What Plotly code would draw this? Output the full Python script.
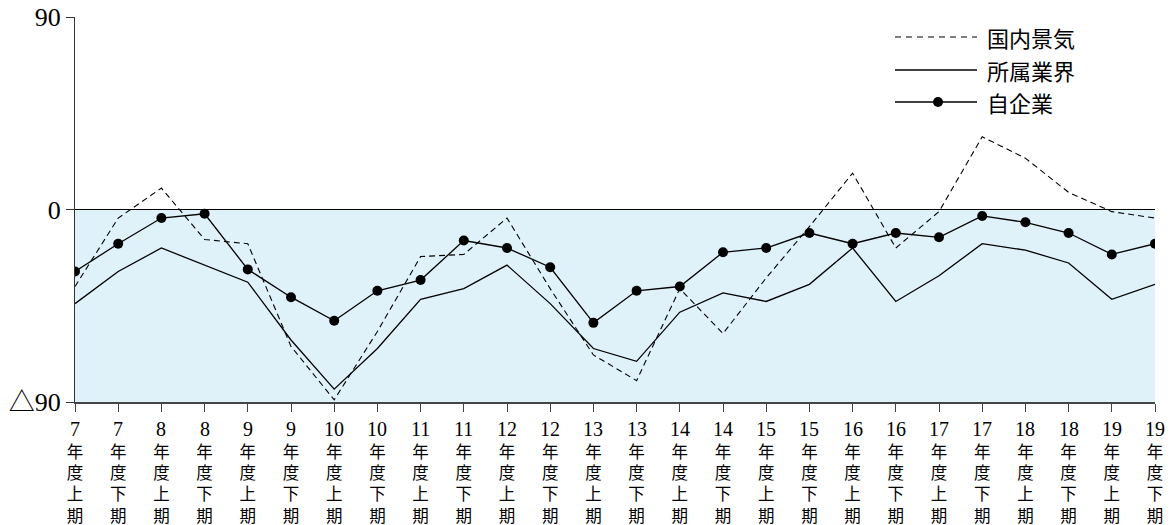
import plotly.graph_objects as go

# Fiscal half-year periods
years = [7, 7, 8, 8, 9, 9, 10, 10, 11, 11, 12, 12, 13, 13,
         14, 14, 15, 15, 16, 16, 17, 17, 18, 18, 19, 19]
halves = ["上", "下"] * 13

# Diffusion-index style scores
domestic = [-36, -4, 10, -14, -16, -64, -89, -57, -22, -21, -4, -37, -68,
            -80, -37, -58, -32, -8, 17, -18, -1, 34, 24, 8, -1, -4]
industry = [-44, -29, -18, -26, -34, -61, -84, -65, -42, -37, -26, -44, -65,
            -71, -48, -39, -43, -35, -18, -43, -31, -16, -19, -25, -42, -35]
company = [-29, -16, -4, -2, -28, -41, -52, -38, -33, -14.5, -18, -27, -53,
           -38, -36, -20, -18, -11, -16, -11, -13, -3, -6, -11, -21, -16]

y_ticks = [90, 0, -90]
y_ticktext = ["90", "0", "△90"]

legend_names = ["国内景気", "所属業界", "自企業"]

xs = list(range(len(years)))
# stacked period labels; the year number sits above them
ticktext = [f"年<br>度<br>{h}<br>期" for h in halves]

SERIF = "Liberation Serif, Noto Sans CJK JP, serif"

fig = go.Figure()

fig.add_trace(go.Scatter(
    x=xs, y=domestic, mode="lines", name=legend_names[0],
    line=dict(color="black", width=1.1, dash="6px,4px"),
))
fig.add_trace(go.Scatter(
    x=xs, y=industry, mode="lines", name=legend_names[1],
    line=dict(color="black", width=1.3),
))
fig.add_trace(go.Scatter(
    x=xs, y=company, mode="lines+markers", name=legend_names[2],
    line=dict(color="black", width=1.3),
    marker=dict(color="black", size=10),
))

# light blue band for the negative region
fig.add_shape(type="rect", xref="x", yref="y", x0=0, x1=25, y0=-90, y1=0,
              fillcolor="#dff1f9", line_width=0, layer="below")

L, R, T, B = 75, 1155, 17, 402


def px_x(p):
    return (p - L) / (R - L)


def px_y(p):
    return (B - p) / (B - T)


# year numbers above the stacked period labels
for x, yr in zip(xs, years):
    fig.add_annotation(xref="x", yref="paper", x=x, y=px_y(429),
                       text=str(yr), showarrow=False, xanchor="center",
                       yanchor="middle", borderpad=0,
                       font=dict(family="Liberation Serif", size=20,
                                 color="black"))

# hand-drawn legend in the upper right
rows = [37, 70, 102]
styles = [dict(dash="6px,5px", width=1.1), dict(width=1.3), dict(width=1.3)]
for name, row, st in zip(legend_names, rows, styles):
    fig.add_shape(type="line", xref="paper", yref="paper",
                  x0=px_x(895), x1=px_x(977), y0=px_y(row), y1=px_y(row),
                  line=dict(color="black", **st))
    fig.add_annotation(xref="paper", yref="paper", x=px_x(985), y=px_y(row),
                       text=name, showarrow=False, xanchor="left",
                       yanchor="middle",
                       font=dict(family="Noto Sans CJK JP", size=22,
                                 color="black"))
fig.add_shape(type="circle", xref="paper", yref="paper",
              x0=px_x(933), x1=px_x(943), y0=px_y(97), y1=px_y(107),
              fillcolor="black", line_width=0)

fig.update_layout(
    width=1172, height=525,
    margin=dict(l=L, r=1172 - R, t=T, b=525 - B),
    paper_bgcolor="white", plot_bgcolor="white",
    showlegend=False,
    xaxis=dict(
        range=[0, 25], tickmode="array", tickvals=xs, ticktext=ticktext,
        automargin=False,
        showgrid=False, zeroline=False, showline=True,
        linecolor="#444", linewidth=1.5,
        ticks="outside", ticklen=8, tickcolor="#444", tickwidth=1.2,
        tickangle=0, ticklabelstandoff=26,
        tickfont=dict(family=SERIF, size=16.5, color="black"),
    ),
    yaxis=dict(
        range=[-90, 90], tickmode="array", tickvals=y_ticks,
        ticktext=y_ticktext, automargin=False,
        showgrid=False, zeroline=True, zerolinecolor="black",
        zerolinewidth=1.3, showline=True, linecolor="#333", linewidth=1.3,
        ticks="outside", ticklen=8, tickcolor="#333", tickwidth=1.2,
        tickfont=dict(family=SERIF, size=26, color="black"),
    ),
)

fig.write_html("out.html")
